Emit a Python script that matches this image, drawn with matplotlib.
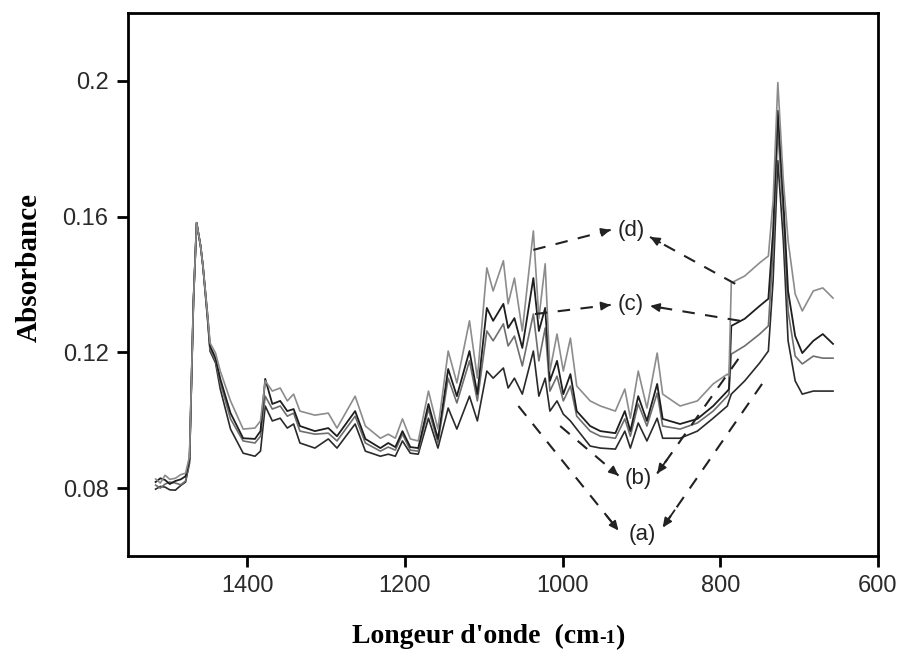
import matplotlib
matplotlib.use("Agg")
import matplotlib.pyplot as plt

# wavenumber (cm-1) and absorbance of the four spectra
wavenumber = [1516, 1510, 1504, 1498, 1491, 1484, 1478, 1473, 1468, 1464, 1459, 1456,
              1450, 1447, 1440, 1434, 1421, 1405, 1390, 1383, 1377, 1368, 1358, 1349,
              1341, 1333, 1314, 1297, 1286, 1263, 1250, 1231, 1221, 1212, 1203, 1193,
              1183, 1170, 1158, 1145, 1134, 1118, 1108, 1096, 1088, 1075, 1069, 1061,
              1051, 1037, 1030, 1022, 1016, 1007, 999, 990, 982, 965, 952, 933, 921,
              914, 904, 893, 880, 873, 851, 829, 809, 791, 789, 786, 769, 750, 739,
              733, 727, 720, 714, 705, 696, 682, 670, 657]

spec_d = [0.0827, 0.0815, 0.0838, 0.0826, 0.0829, 0.0840, 0.0844, 0.0894, 0.1352, 0.1582, 0.1514, 0.1455,
          0.1307, 0.1228, 0.1198, 0.1145, 0.1057, 0.0974, 0.0977, 0.0998, 0.1116, 0.1086, 0.1095, 0.1057,
          0.1077, 0.1027, 0.1015, 0.1021, 0.0977, 0.1071, 0.0983, 0.0947, 0.0959, 0.0947, 0.1004, 0.0945,
          0.0939, 0.1086, 0.0974, 0.1204, 0.1110, 0.1293, 0.1124, 0.1449, 0.1381, 0.1470, 0.1343, 0.1419,
          0.1263, 0.1558, 0.1300, 0.1461, 0.1145, 0.1254, 0.1145, 0.1242, 0.1101, 0.1057, 0.1042, 0.1027, 0.1092,
          0.1006, 0.1145, 0.1036, 0.1198, 0.1077, 0.1042, 0.1057, 0.1107, 0.1136, 0.1130, 0.1405, 0.1425, 0.1464, 0.1484,
          0.1647, 0.1995, 0.1706, 0.1529, 0.1372, 0.1322, 0.1381, 0.1390, 0.1360]

spec_c = [0.0818, 0.0829, 0.0824, 0.0812, 0.0821, 0.0826, 0.0835, 0.0886, 0.1352, 0.1582, 0.1514, 0.1455,
          0.1307, 0.1219, 0.1183, 0.1122, 0.1021, 0.0947, 0.0945, 0.0968, 0.1122, 0.1048, 0.1057, 0.1027,
          0.1033, 0.0983, 0.0968, 0.0977, 0.0953, 0.1027, 0.0945, 0.0918, 0.0933, 0.0921, 0.0968, 0.0921,
          0.0918, 0.1048, 0.0945, 0.1151, 0.1071, 0.1204, 0.1077, 0.1331, 0.1293, 0.1343, 0.1272, 0.1301,
          0.1213, 0.1419, 0.1263, 0.1331, 0.1116, 0.1175, 0.1077, 0.1136, 0.1027, 0.0983, 0.0968, 0.0962, 0.1027,
          0.0968, 0.1071, 0.0998, 0.1107, 0.1004, 0.0989, 0.1004, 0.1042, 0.1086, 0.1092, 0.1278, 0.1299, 0.1337, 0.1358,
          0.1558, 0.1912, 0.1647, 0.1381, 0.1248, 0.1198, 0.1234, 0.1254, 0.1225]

spec_b = [0.0809, 0.0800, 0.0812, 0.0818, 0.0815, 0.0810, 0.0821, 0.0880, 0.1352, 0.1582, 0.1514, 0.1455,
          0.1299, 0.1210, 0.1175, 0.1110, 0.1004, 0.0939, 0.0933, 0.0953, 0.1071, 0.1033, 0.1042, 0.1012,
          0.1021, 0.0968, 0.0959, 0.0962, 0.0939, 0.1012, 0.0933, 0.0909, 0.0921, 0.0912, 0.0959, 0.0912,
          0.0909, 0.1033, 0.0933, 0.1124, 0.1051, 0.1175, 0.1057, 0.1263, 0.1234, 0.1284, 0.1219, 0.1248,
          0.1160, 0.1313, 0.1175, 0.1272, 0.1086, 0.1130, 0.1057, 0.1101, 0.1012, 0.0968, 0.0953, 0.0947, 0.1004,
          0.0953, 0.1048, 0.0983, 0.1080, 0.0983, 0.0974, 0.0992, 0.1027, 0.1071, 0.1077, 0.1195, 0.1219, 0.1254, 0.1278,
          0.1499, 0.1859, 0.1602, 0.1322, 0.1189, 0.1166, 0.1189, 0.1183, 0.1183]

spec_a = [0.0797, 0.0805, 0.0803, 0.0795, 0.0794, 0.0808, 0.0818, 0.0874, 0.1352, 0.1582, 0.1514, 0.1455,
          0.1293, 0.1204, 0.1169, 0.1092, 0.0974, 0.0903, 0.0894, 0.0909, 0.1042, 0.0998, 0.1006, 0.0977,
          0.0989, 0.0933, 0.0918, 0.0945, 0.0918, 0.0989, 0.0909, 0.0894, 0.0900, 0.0894, 0.0939, 0.0903,
          0.0900, 0.1006, 0.0918, 0.1036, 0.0974, 0.1071, 0.0998, 0.1145, 0.1124, 0.1154, 0.1095, 0.1124,
          0.1077, 0.1204, 0.1071, 0.1124, 0.1027, 0.1057, 0.1018, 0.0998, 0.0974, 0.0924, 0.0918, 0.0915, 0.0968,
          0.0918, 0.0992, 0.0939, 0.1006, 0.0947, 0.0947, 0.0968, 0.1006, 0.1042, 0.1057, 0.1077, 0.1116, 0.1169, 0.1204,
          0.1411, 0.1765, 0.1529, 0.1234, 0.1116, 0.1077, 0.1086, 0.1086, 0.1086]

# labels (a)-(d) and the dashed pointer lines
labels = ["(d)", "(c)", "(b)", "(a)"]
label_pos = [(913, 0.1558), (914, 0.1340), (904, 0.0829), (899, 0.0664)]
left_start = [(1037, 0.1502), (1035, 0.1313), (1003, 0.0983), (1056, 0.1042)]
left_end = [(939, 0.1561), (939, 0.1340), (929, 0.0837), (929, 0.0675)]
right_start = [(781, 0.1402), (775, 0.1293), (777, 0.1181), (747, 0.1107)]
right_end = [(889, 0.1540), (889, 0.1337), (880, 0.0843), (873, 0.0684)]

fig = plt.figure(figsize=(8.97, 6.5), dpi=100)
ax = fig.add_axes([0.1427, 0.1446, 0.8361, 0.8354])

ax.plot(wavenumber, spec_a, color="#2a2a2a", lw=1.2)
ax.plot(wavenumber, spec_b, color="#6e6e6e", lw=1.2)
ax.plot(wavenumber, spec_c, color="#1e1e1e", lw=1.3)
ax.plot(wavenumber, spec_d, color="#8c8c8c", lw=1.2)

for lab, pos, ls, le, rs, re in zip(labels, label_pos, left_start, left_end, right_start, right_end):
    ax.text(pos[0], pos[1], lab, ha="center", va="center", fontsize=16,
            family="Liberation Sans", color="#222222")
    for s, e in [(ls, le), (rs, re)]:
        ax.plot([s[0], e[0]], [s[1], e[1]], color="#222222", lw=1.5, ls=(0, (6, 5)))
        # short solid segment carries the arrow head
        hx = e[0] + (s[0] - e[0]) * 0.12
        hy = e[1] + (s[1] - e[1]) * 0.12
        ax.annotate("", xy=e, xytext=(hx, hy),
                    arrowprops=dict(arrowstyle="-|>,head_length=0.55,head_width=0.25",
                                    color="#222222", lw=1.3, shrinkA=0, shrinkB=0))

ax.set_xlim(1551, 600)
ax.set_ylim(0.06, 0.22)
ax.set_xticks([1400, 1200, 1000, 800, 600])
ax.set_yticks([0.08, 0.12, 0.16, 0.2])
ax.set_yticklabels(["0.08", "0.12", "0.16", "0.2"])
ax.tick_params(direction="out", length=8, width=2, labelsize=17, labelcolor="#2a2a2a", pad=6)
for lbl in ax.get_xticklabels() + ax.get_yticklabels():
    lbl.set_family("Liberation Sans")
for sp in ax.spines.values():
    sp.set_linewidth(2)

fig.text(0.033, 0.588, "Absorbance", rotation=90, ha="center", va="center",
         fontsize=21, fontweight="bold", family="Liberation Serif")
t1 = fig.text(0.392, 0.021, "Longeur d'onde  (cm", ha="left", va="center",
              fontsize=20, fontweight="bold", family="Liberation Serif")
t2 = ax.annotate("-1", xy=(1, 0.42), xycoords=t1, ha="left", va="center",
                 fontsize=14, fontweight="bold", family="Liberation Serif")
ax.annotate(")", xy=(1, 0.55), xycoords=t2, ha="left", va="center",
            fontsize=20, fontweight="bold", family="Liberation Serif")

fig.savefig("out.png", dpi=100)
